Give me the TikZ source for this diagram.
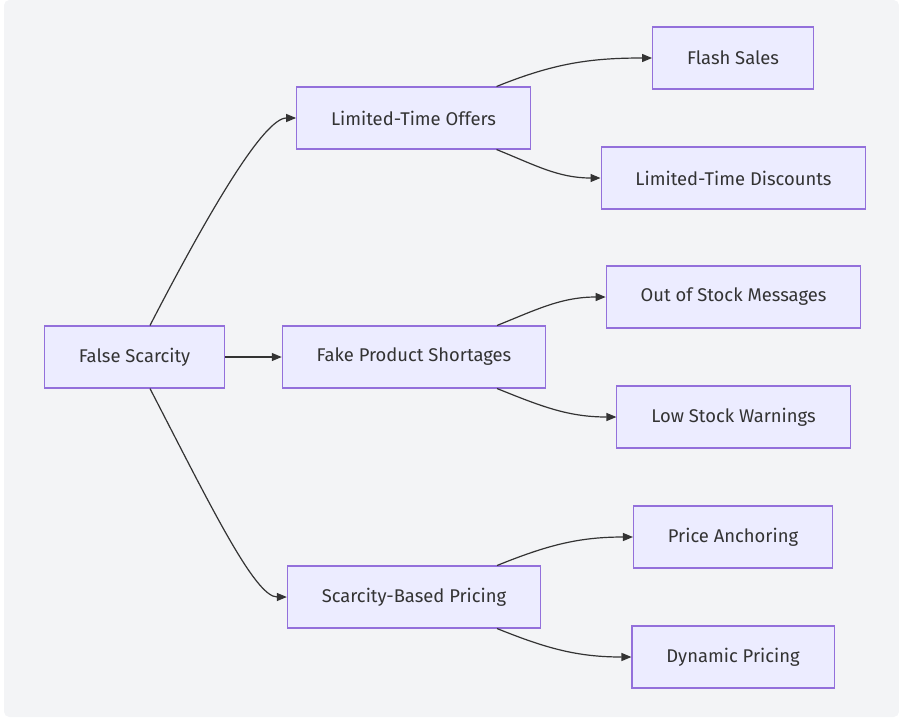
\documentclass[tikz,border=0pt]{standalone}
\usepackage{fontspec}
\setmainfont{Fira Sans}
\usetikzlibrary{arrows.meta}
\usetikzlibrary{positioning}
\definecolor{nodefill}{HTML}{ECECFF}
\definecolor{nodeline}{HTML}{9370DB}
\definecolor{ink}{HTML}{333333}
\definecolor{backdrop}{HTML}{F3F4F6}

\begin{document}
\begin{tikzpicture}
    [x=0.75pt,y=-0.75pt,
    topic/.style={rectangle,draw=nodeline,fill=nodefill,line width=0.8pt,
      text=ink,font=\fontsize{13.8}{16}\selectfont,
      inner xsep=25.8pt,minimum height=46.5pt},
    link/.style={draw=ink,line width=0.9pt,
      -{Triangle[length=7.5pt,width=6pt]}}]

    \useasboundingbox (0,0) rectangle (899,722);
    \fill[backdrop,rounded corners=4pt] (4,0) rectangle (899,717);

    \node[topic] (scarcity)  at (134.5,357) {False Scarcity};

    \node[topic] (offers)    at (413.5,118) {Limited-Time Offers};
    \node[topic] (shortages) at (414,357)   {Fake Product Shortages};
    \node[topic] (pricing)   at (414,597)   {Scarcity-Based Pricing};

    \node[topic] (flash)     at (733,58)    {Flash Sales};
    \node[topic] (discounts) at (733.5,178) {Limited-Time Discounts};
    \node[topic] (outstock)  at (733.5,297) {Out of Stock Messages};
    \node[topic] (lowstock)  at (733.5,417) {Low Stock Warnings};
    \node[topic] (anchoring) at (733,537)   {Price Anchoring};
    \node[topic] (dynamic)   at (733,657)   {Dynamic Pricing};

    % root to the three tactics
    \draw[link] ([xshift=11.6pt]scarcity.north)
      .. controls +(60,-116) and +(-32,0) .. (offers.west);
    \draw[link] (scarcity) -- (shortages);
    \draw[link] ([xshift=11.6pt]scarcity.south)
      .. controls +(60,116) and +(-32,0) .. (pricing.west);

    % tactics to examples
    \draw[link] ([xshift=62.3pt]offers.north) to[out=22,in=180] (flash.west);
    \draw[link] ([xshift=62.3pt]offers.south) to[out=-22,in=180] (discounts.west);
    \draw[link] ([xshift=62.3pt]shortages.north) to[out=22,in=180] (outstock.west);
    \draw[link] ([xshift=62.3pt]shortages.south) to[out=-22,in=180] (lowstock.west);
    \draw[link] ([xshift=62.3pt]pricing.north) to[out=22,in=180] (anchoring.west);
    \draw[link] ([xshift=62.3pt]pricing.south) to[out=-22,in=180] (dynamic.west);

  \end{tikzpicture}
\end{document}
